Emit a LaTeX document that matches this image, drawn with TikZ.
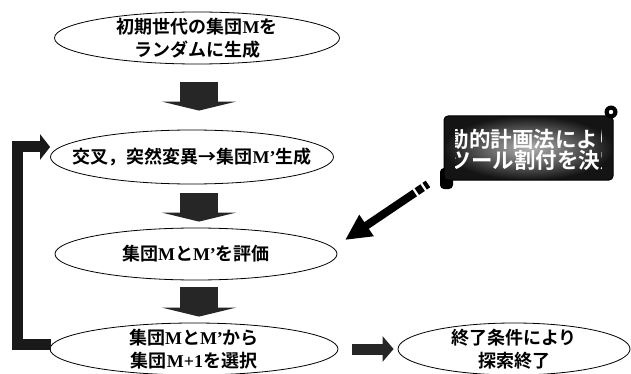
\documentclass[tikz,border=0pt]{standalone}
\usepackage{fontspec}
\newfontfamily\jp{Noto Sans CJK JP}[BoldFont={* Bold}]
\newfontfamily\latf{Liberation Serif}
\newcommand\LM[1]{{\latf\bfseries #1}}
\usetikzlibrary{arrows.meta,shapes.geometric,calc}
\tikzset{
 ell/.style={draw=black, line width=0.8pt, ellipse, fill=white, inner sep=0pt},
 txt/.style={font=\jp\bfseries\fontsize{18}{23}\selectfont, align=center, inner sep=0pt},
 bantxt/.style={font=\jp\bfseries\fontsize{21.5}{22}\selectfont, text=white, inner sep=0pt},
 blkdown/.style={draw=black!85, line width=38pt, line cap=butt, -{Triangle[width=74pt,length=9pt]}},
 blkright/.style={draw=black!85, line width=11pt, line cap=butt, -{Triangle[width=25pt,length=11pt]}},
 loopline/.style={draw=black!90, line width=11pt, line cap=butt, line join=miter, -{Triangle[width=25pt,length=10pt]}},
 penline/.style={draw=black, line width=8pt, dash pattern=on 4pt off 2.5pt on 7pt off 2.5pt on 300pt, -{Triangle[width=24pt,length=26pt]}}
}
\begin{document}
\begin{tikzpicture}[x=1pt,y=-1pt]
\useasboundingbox (0,0) rectangle (631,374);
\fill[white] (0,0) rectangle (631,374);

% ellipses
\node[ell, minimum width=285pt, minimum height=52pt] (e1) at (197,38) {};
\node[txt] (t1) at (e1) {初期世代の集団\LM{M}を\\ランダムに生成};
\node[ell, minimum width=283pt, minimum height=54pt] (e2) at (192,157) {};
\node[txt] (t2) at (e2) {交叉，突然変異→集団\LM{M’}生成};
\node[ell, minimum width=282pt, minimum height=52pt] (e3) at (196,254) {};
\node[txt] (t3) at (e3) {集団\LM{M}と\LM{M’}を評価};
\node[ell, minimum width=288pt, minimum height=52pt] (e4) at (194,349) {};
\node[txt] (t4) at (e4) {集団\LM{M}と\LM{M’}から\\集団\LM{M+1}を選択};
\node[ell, minimum width=232pt, minimum height=52pt] (e5) at (514,349) {};
\node[txt] (t5) at (e5) {終了条件により\\探索終了};

% block arrows
\draw[blkdown] ($(e1.south)+(2,18)$) -- ($(e2.north)+(7,-19)$);
\draw[blkdown] ($(e2.south)+(7,9)$) -- ($(e3.north)+(3,-6)$);
\draw[blkdown] ($(e3.south)+(3,7)$) -- ($(e4.north)+(5,-6)$);
\draw[blkright] ($(e4.east)+(14,0)$) -- ($(e5.west)+(-4,0)$);

% loop back
\draw[loopline] ($(e4.west)+(1,-5)$) -- (17.5,344) |- ($(e2.west)+(0,-10)$);

% banner (scroll)
\fill[black, rounded corners=4pt] (440,168) rectangle (453,189);
\shade[outer color=black!92, inner color=black!30, rounded corners=4pt] (444,116) rectangle (613,180);
\draw[black, line width=1pt, rounded corners=4pt] (444,116) rectangle (613,180);
\fill[black] (611,112) circle (6.5);
\fill[white] (611,112) circle (2.2);
\begin{scope}
\clip (455,118) rectangle (601,178);
\node[bantxt, anchor=west] (b1) at (447.5,139) {動的計画法により};
\node[bantxt, anchor=west] (b2) at (449.5,160) {ツール割付を決定};
\end{scope}

% pen arrow from banner to evaluation
\coordinate (pt) at (428,184);
\coordinate (ph) at (345,240);
\draw[penline] (pt) -- (ph);
\end{tikzpicture}
\end{document}
